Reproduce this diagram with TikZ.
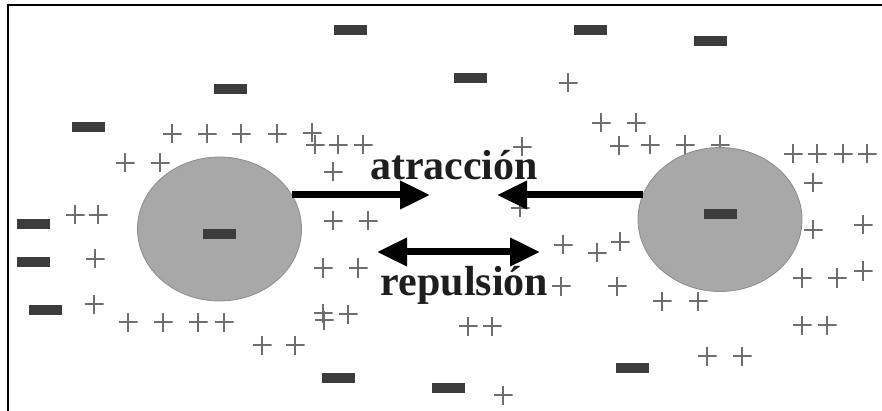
\documentclass[tikz,border=0pt]{standalone}
\usepackage{fontspec}
\setmainfont{Liberation Serif}
\usetikzlibrary{arrows.meta,shapes.geometric}
\definecolor{negc}{HTML}{3C3C3C}
\definecolor{posc}{HTML}{6E6E6E}
\definecolor{ballc}{HTML}{A8A8A8}
\definecolor{balld}{HTML}{8C8C8C}
\definecolor{txtc}{HTML}{1E1E1E}
\tikzset{
  negcharge/.style={fill=negc, minimum width=33pt, minimum height=10pt, inner sep=0pt},
  poscharge/.style={minimum size=19pt, inner sep=0pt,
    path picture={\draw[posc, line width=1.1pt]
      (path picture bounding box.north) -- (path picture bounding box.south)
      (path picture bounding box.west) -- (path picture bounding box.east);}},
  ball/.style={ellipse, fill=ballc, draw=balld, line width=0.8pt,
    minimum width=164pt, minimum height=144pt, inner sep=0pt},
  lbltext/.style={text=txtc, font=\bfseries\fontsize{42}{48}\selectfont, inner sep=0pt, anchor=base},
  force/.style={line width=7pt, -{Triangle[length=30pt,width=27pt]}},
  forceboth/.style={line width=7pt, {Triangle[length=30pt,width=27pt]}-{Triangle[length=30pt,width=27pt]}},
}
\begin{document}
\begin{tikzpicture}[x=1pt,y=-1pt]
\useasboundingbox (0,0) rectangle (882,411);
% frame
\draw[line width=2.5pt] (8,411) -- (8,5) -- (882,5);
% positive charges
\foreach \px/\py [count=\i] in {172/134,207/134,241/134,277/134,312/133,
  315/145,338/145,363/145,125/163,160/163,333/172,333/221,368/221,
  323/268,358/268,323/313,324/320,348/314,262/345,295/345,
  468/326,492/326,503/395,520/208,522/147,568/83,563/245,561/286,
  597/253,620/242,617/286,662/301,698/301,601/123,636/123,
  619/146,650/145,685/145,720/145,793/154,817/154,843/154,867/154,
  813/183,813/230,863/225,802/278,837/278,863/271,802/325,827/325,
  707/356,742/356,75/215,98/215,95/259,94/304,128/322,163/322,198/322,224/322}
  \node[poscharge] (p\i) at (\px,\py) {};
% spheres
\node[ball] (lc) at (219.5,229) {};
\node[ball] (rc) at (720,219.5) {};
% negative charges
\foreach \nx/\ny [count=\i] in {230/89,88/127,350/30,470/78,590/30,710/41,
  33/224,33/262,45/310,219/234,338/378,448/388,720/214,632/368}
  \node[negcharge] (n\i) at (\nx,\ny) {};
% labels
\node[lbltext] (at) at (454,180) {atracción};
\node[lbltext] (rp) at (464.5,295) {repulsión};
% arrows
\coordinate (a1) at (430,195);
\coordinate (a2) at (497,195);
\coordinate (r1) at (377,252);
\coordinate (r2) at (540,252);
\draw[force] (lc.25.2 |- a1) -- (a1);
\draw[force] (rc.162.4 |- a2) -- (a2);
\draw[forceboth] (r1) -- (r2);
\end{tikzpicture}
\end{document}
